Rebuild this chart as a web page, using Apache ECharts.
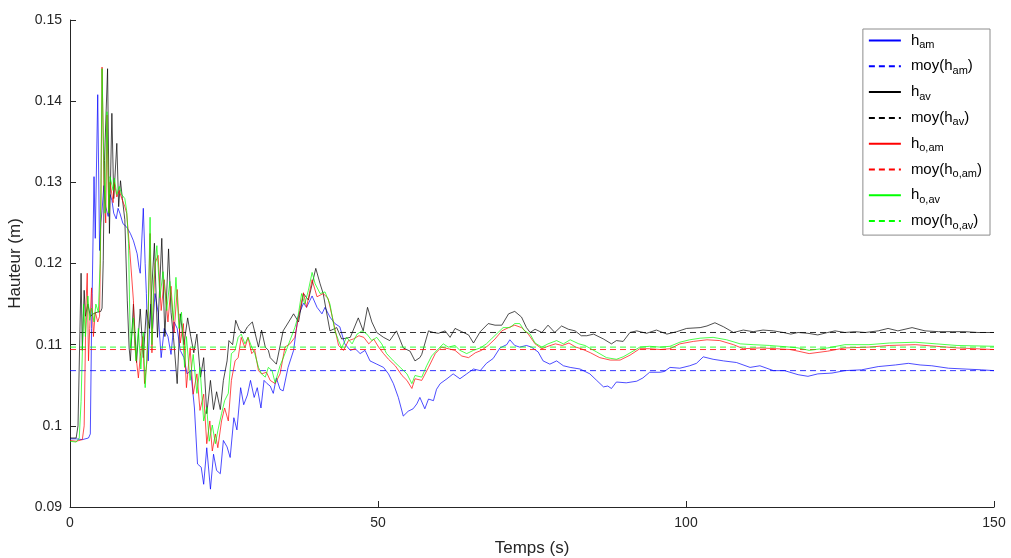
<!DOCTYPE html>
<html>
<head>
<meta charset="utf-8">
<script src="https://cdn.jsdelivr.net/npm/echarts@6/dist/echarts.min.js"></script>
<style>html,body{margin:0;padding:0;background:#fff}#c{width:1011px;height:558px}</style>
</head>
<body>
<div id="c"></div>
<script>
// ---- data: [time (s), height (m)] ----
const hAm = [[0,0.0984],[1,0.0984],[2,0.0983],[3,0.0985],[3.3,0.0990],[3.5,0.1120],[3.6,0.1163],[3.9,0.1307],[4.1,0.1231],[4.5,0.1408],[4.8,0.1216],[5.0,0.1250],[5.2,0.1265],[5.5,0.1296],[5.8,0.1270],[6.2,0.1258],[6.5,0.1285],[6.8,0.1278],[7.1,0.1262],[7.5,0.1255],[7.8,0.1268],[8.1,0.1262],[8.6,0.1249],[9.2,0.1245],[9.8,0.1237],[10.3,0.1228],[10.9,0.1212],[11.2,0.1195],[11.4,0.1188],[11.9,0.1268],[12.2,0.1200],[12.4,0.1163],[12.7,0.1080],[13.1,0.1150],[13.4,0.1120],[13.8,0.1163],[14.3,0.1140],[14.8,0.1084],[15.3,0.1120],[15.9,0.1110],[16.4,0.1088],[16.9,0.1128],[17.4,0.1120],[17.9,0.1093],[18.5,0.1084],[19.0,0.1064],[19.6,0.1068],[20.2,0.1022],[20.7,0.0953],[21.3,0.0949],[21.7,0.0928],[22.2,0.0973],[22.8,0.0922],[23.3,0.0965],[23.8,0.0945],[24.4,0.0941],[24.9,0.0982],[25.5,0.0974],[26.0,0.0961],[26.6,0.1010],[27.1,0.0995],[27.7,0.1047],[28.2,0.1026],[28.8,0.1038],[29.3,0.1056],[29.9,0.1035],[30.4,0.1047],[31.0,0.1022],[31.5,0.1056],[32.0,0.1052],[32.5,0.1049],[33.0,0.1040],[33.5,0.1059],[34.1,0.1045],[34.6,0.1043],[35.4,0.1072],[36.3,0.1093],[37.0,0.1134],[37.9,0.1151],[38.4,0.1146],[39.3,0.1160],[40.1,0.1146],[40.9,0.1138],[41.4,0.1146],[42.2,0.1134],[43.0,0.1126],[43.8,0.1122],[44.6,0.1101],[45.5,0.1093],[46.3,0.1095],[47.1,0.1089],[47.9,0.1093],[48.7,0.1080],[49.8,0.1076],[50.9,0.1072],[51.7,0.1064],[52.5,0.1052],[53.3,0.1035],[54.1,0.1012],[54.9,0.1018],[55.7,0.1021],[56.3,0.1027],[56.8,0.1035],[57.6,0.1021],[58.2,0.1033],[59.0,0.1031],[59.5,0.1045],[60.1,0.1052],[61.2,0.1058],[62.2,0.1064],[63.3,0.1058],[64.4,0.1064],[65.5,0.1070],[66.6,0.1068],[67.6,0.1077],[68.7,0.1083],[69.8,0.1096],[70.9,0.1100],[71.4,0.1106],[72.2,0.1099],[73.0,0.1097],[74.1,0.1099],[74.9,0.1097],[76.0,0.1091],[76.8,0.1080],[77.9,0.1076],[79.0,0.1080],[80.1,0.1074],[81.2,0.1072],[82.8,0.1070],[84.4,0.1064],[85.5,0.1056],[86.6,0.1048],[87.3,0.1049],[87.9,0.1046],[88.7,0.1054],[90.3,0.1053],[92.0,0.1055],[93.0,0.1059],[94.1,0.1066],[95.8,0.1066],[96.5,0.1067],[97.4,0.1072],[99.0,0.1071],[100.6,0.1074],[101.7,0.1077],[102.8,0.1085],[104.4,0.1082],[106.1,0.1080],[108.2,0.1078],[110.4,0.1072],[112.0,0.1074],[114.2,0.1068],[116.0,0.1068],[118.2,0.1063],[119.8,0.1061],[121.4,0.1064],[123.7,0.1065],[125.8,0.1068],[128.5,0.1069],[131.2,0.1073],[134.0,0.1075],[136.1,0.1077],[138.0,0.1075],[139.9,0.1074],[142.6,0.1071],[145.3,0.1070],[148,0.1069],[150,0.1068]];

const hAv = [[0,0.0985],[1.0,0.0985],[1.3,0.1000],[1.8,0.1188],[2.0,0.1093],[2.3,0.1167],[2.5,0.1135],[2.9,0.1150],[3.3,0.1135],[3.8,0.1138],[4.4,0.1140],[5.0,0.1141],[5.2,0.1145],[5.4,0.1204],[5.6,0.1327],[6.1,0.1440],[6.4,0.1237],[6.8,0.1385],[7.1,0.1280],[7.6,0.1348],[7.9,0.1270],[8.2,0.1302],[8.5,0.1280],[8.9,0.1254],[9.3,0.1154],[9.6,0.1096],[9.8,0.1080],[10.3,0.1150],[10.8,0.1078],[11.4,0.1144],[11.9,0.1084],[12.4,0.1143],[12.9,0.1120],[13.7,0.1225],[14.2,0.1109],[14.9,0.1231],[15.4,0.1110],[16.0,0.1218],[16.4,0.1140],[16.8,0.1109],[17.4,0.1052],[17.9,0.1138],[18.5,0.1100],[19.1,0.1133],[19.6,0.1110],[20.1,0.1090],[20.6,0.1113],[21.2,0.1060],[21.7,0.1084],[22.2,0.1015],[22.8,0.1056],[23.3,0.1020],[23.8,0.1042],[24.4,0.1020],[24.9,0.1056],[25.5,0.1080],[25.8,0.1105],[26.4,0.1100],[26.9,0.1130],[27.5,0.1118],[28.2,0.1114],[28.8,0.1122],[29.6,0.1128],[30.6,0.1097],[31.1,0.1118],[31.7,0.1097],[32.2,0.1093],[32.5,0.1084],[33.5,0.1076],[34.6,0.1117],[35.5,0.1128],[36.3,0.1138],[37.1,0.1128],[37.9,0.1163],[38.7,0.1155],[39.9,0.1194],[40.6,0.1175],[41.1,0.1163],[41.6,0.1142],[42.2,0.1117],[43.3,0.1121],[44.1,0.1107],[45.5,0.1109],[46.8,0.1133],[47.6,0.1117],[48.3,0.1146],[49.0,0.1128],[49.8,0.1115],[50.9,0.1109],[51.9,0.1105],[53.0,0.1117],[54.1,0.1096],[55.2,0.1092],[56.0,0.1080],[56.3,0.1078],[56.8,0.1084],[57.1,0.1088],[58.2,0.1117],[59.0,0.1115],[59.8,0.1114],[60.9,0.1117],[61.7,0.1109],[62.5,0.1120],[63.6,0.1116],[64.7,0.1112],[65.5,0.1102],[66.6,0.1116],[67.9,0.1126],[69.0,0.1124],[70.1,0.1124],[71.2,0.1138],[72.2,0.1141],[73.3,0.1134],[74.1,0.1121],[74.7,0.1115],[75.5,0.1119],[76.6,0.1115],[77.6,0.1124],[78.7,0.1115],[79.8,0.1123],[80.9,0.1119],[82.0,0.1117],[83.0,0.1111],[83.9,0.1111],[85.0,0.1113],[86.6,0.1107],[87.9,0.1101],[88.7,0.1105],[89.8,0.1104],[90.9,0.1115],[92.0,0.1117],[93.6,0.1114],[95.2,0.1118],[96.9,0.1113],[98.5,0.1116],[100.1,0.1120],[102.3,0.1121],[103.4,0.1123],[104.7,0.1127],[106.1,0.1122],[107.7,0.1115],[109.3,0.1118],[110.9,0.1116],[112.5,0.1118],[114.2,0.1117],[115.8,0.1115],[117.0,0.1113],[118.2,0.1115],[119.8,0.1114],[121.4,0.1112],[123.0,0.1115],[124.2,0.1117],[125.8,0.1115],[127.4,0.1116],[129.1,0.1115],[131.2,0.1117],[132.8,0.1120],[134.4,0.1117],[136.7,0.1121],[138.8,0.1117],[141,0.1116],[143.2,0.1116],[145.3,0.1116],[147.4,0.1115],[150,0.1115]];

const hOam = [[0,0.0982],[1.0,0.0981],[2.0,0.0983],[2.3,0.1000],[2.6,0.1150],[2.8,0.1188],[3.0,0.1080],[3.2,0.1120],[3.5,0.1170],[3.8,0.1110],[4.1,0.1140],[4.5,0.1128],[4.8,0.1135],[5.0,0.1250],[5.2,0.1442],[5.5,0.1302],[5.8,0.1250],[6.0,0.1383],[6.3,0.1262],[6.5,0.1300],[7.0,0.1275],[7.2,0.1300],[7.6,0.1282],[8.0,0.1290],[8.4,0.1280],[8.9,0.1270],[9.2,0.1262],[9.7,0.1216],[10.3,0.1154],[10.5,0.1101],[11.1,0.1059],[11.4,0.1085],[11.8,0.1110],[12.1,0.1052],[12.5,0.1080],[13.0,0.1237],[13.3,0.1090],[13.5,0.1140],[13.8,0.1200],[14.3,0.1210],[14.8,0.1142],[15.3,0.1180],[15.9,0.1128],[16.4,0.1172],[16.9,0.1115],[17.4,0.1168],[17.9,0.1102],[18.4,0.1126],[18.9,0.1047],[19.5,0.1096],[20.0,0.1039],[20.6,0.1064],[21.1,0.1019],[21.7,0.1039],[22.2,0.0978],[22.7,0.1006],[23.1,0.0969],[23.6,0.0990],[24.0,0.0973],[24.6,0.1006],[25.1,0.1022],[25.7,0.1006],[26.2,0.1056],[26.8,0.1080],[27.3,0.1084],[27.8,0.1109],[28.4,0.1096],[28.9,0.1109],[29.5,0.1089],[30.0,0.1093],[30.6,0.1068],[31.1,0.1064],[31.9,0.1066],[32.5,0.1056],[33.3,0.1052],[34.1,0.1064],[34.9,0.1097],[35.7,0.1101],[36.5,0.1109],[37.3,0.1142],[37.9,0.1164],[38.4,0.1146],[39.3,0.1180],[40.1,0.1159],[41.1,0.1163],[41.9,0.1157],[42.7,0.1130],[43.6,0.1099],[44.4,0.1093],[45.2,0.1105],[46.0,0.1107],[46.9,0.1111],[47.7,0.1109],[48.5,0.1101],[49.3,0.1107],[50.1,0.1097],[50.9,0.1089],[51.7,0.1082],[52.8,0.1074],[53.9,0.1062],[54.7,0.1056],[55.5,0.1046],[56.0,0.1058],[57.1,0.1056],[58.2,0.1072],[59.3,0.1089],[60.3,0.1097],[61.4,0.1095],[62.5,0.1093],[63.6,0.1086],[64.7,0.1084],[65.8,0.1090],[66.8,0.1093],[67.9,0.1099],[69.0,0.1107],[70.1,0.1117],[71.2,0.1121],[72.2,0.1124],[73.3,0.1121],[74.4,0.1113],[75.5,0.1101],[76.6,0.1095],[77.6,0.1098],[78.8,0.1101],[79.9,0.1099],[81.0,0.1102],[82.1,0.1097],[83.0,0.1095],[84.5,0.1090],[86.0,0.1084],[87.7,0.1081],[89.3,0.1081],[90.9,0.1087],[92.5,0.1095],[94.1,0.1095],[95.8,0.1094],[97.4,0.1095],[99.0,0.1101],[101.2,0.1104],[103.4,0.1106],[105.5,0.1105],[107.7,0.1100],[109.3,0.1095],[112.0,0.1096],[114.7,0.1095],[116.9,0.1094],[118.2,0.1092],[120.0,0.1089],[123.0,0.1092],[125.8,0.1096],[129.7,0.1097],[133.0,0.1099],[137.2,0.1100],[140.6,0.1098],[144.0,0.1096],[150,0.1094]];

const hOav = [[0,0.0981],[1.0,0.0980],[1.5,0.0985],[1.8,0.1030],[2.2,0.1150],[2.5,0.1110],[2.9,0.1160],[3.2,0.1130],[3.5,0.1145],[3.9,0.1128],[4.2,0.1150],[4.6,0.1140],[4.9,0.1200],[5.2,0.1440],[5.5,0.1320],[5.7,0.1262],[6.0,0.1387],[6.3,0.1262],[6.5,0.1307],[7.0,0.1290],[7.2,0.1305],[7.6,0.1285],[8.0,0.1295],[8.4,0.1285],[8.9,0.1280],[9.2,0.1265],[9.5,0.1225],[9.8,0.1096],[10.3,0.1133],[10.7,0.1080],[11.1,0.1120],[11.5,0.1070],[11.9,0.1115],[12.2,0.1047],[12.6,0.1100],[13.0,0.1257],[13.3,0.1100],[13.6,0.1180],[14.1,0.1222],[14.6,0.1158],[15.1,0.1190],[15.7,0.1142],[16.2,0.1178],[16.8,0.1130],[17.2,0.1183],[17.7,0.1120],[18.1,0.1140],[18.6,0.1072],[18.9,0.1110],[19.5,0.1056],[20.0,0.1088],[20.6,0.1040],[21.1,0.1072],[21.7,0.1006],[22.2,0.1023],[22.6,0.0981],[23.1,0.1001],[23.6,0.0978],[24.0,0.0994],[24.6,0.1015],[25.1,0.1031],[25.7,0.1040],[26.2,0.1089],[26.8,0.1093],[27.3,0.1109],[27.8,0.1113],[28.4,0.1101],[28.9,0.1109],[29.5,0.1097],[30.0,0.1089],[30.6,0.1072],[31.1,0.1064],[31.7,0.1060],[32.2,0.1072],[32.8,0.1068],[33.3,0.1053],[34.1,0.1074],[34.9,0.1089],[35.7,0.1105],[36.5,0.1121],[37.0,0.1134],[37.6,0.1163],[38.1,0.1150],[38.7,0.1167],[39.3,0.1189],[39.8,0.1175],[40.6,0.1163],[41.4,0.1165],[42.2,0.1150],[43.0,0.1117],[43.6,0.1105],[44.1,0.1096],[44.9,0.1109],[45.8,0.1101],[46.6,0.1113],[47.4,0.1117],[48.2,0.1113],[49.0,0.1105],[49.8,0.1109],[50.6,0.1101],[51.4,0.1089],[52.5,0.1080],[53.6,0.1072],[54.7,0.1064],[55.5,0.1052],[56.0,0.1062],[57.1,0.1060],[57.9,0.1074],[58.7,0.1086],[59.8,0.1095],[60.6,0.1101],[61.4,0.1097],[62.5,0.1099],[63.3,0.1093],[64.4,0.1089],[65.5,0.1093],[66.6,0.1096],[67.6,0.1101],[68.4,0.1107],[69.5,0.1115],[70.3,0.1121],[71.4,0.1121],[72.2,0.1126],[73.0,0.1126],[73.8,0.1117],[74.7,0.1113],[75.5,0.1102],[76.6,0.1097],[77.6,0.1101],[79.0,0.1105],[80.1,0.1101],[81.2,0.1106],[82.6,0.1101],[83.6,0.1099],[85.5,0.1091],[87.1,0.1084],[88.7,0.1082],[89.8,0.1085],[91.4,0.1092],[92.5,0.1097],[94.1,0.1098],[95.8,0.1097],[97.4,0.1098],[99.0,0.1103],[100.6,0.1106],[102.3,0.1108],[104.4,0.1109],[106.6,0.1106],[108.8,0.1101],[110.9,0.1100],[113.6,0.1099],[116.9,0.1097],[118.2,0.1096],[120.0,0.1093],[123.0,0.1096],[125.8,0.1100],[129.7,0.1100],[133.0,0.1102],[137.2,0.1103],[140.6,0.1101],[144.0,0.1099],[150,0.1098]];

// mean levels
const meanAm = 0.1068;
const meanAv = 0.1115;
const meanOam = 0.1094;
const meanOav = 0.1097;

// time span of the mean lines and axis ticks
const tSpan = [0, 150];
const xTicks = [0, 50, 100, 150];
const yTicks = [0.09, 0.10, 0.11, 0.12, 0.13, 0.14, 0.15];

const names = ['h_am','moy(h_am)','h_av','moy(h_av)','h_o,am','moy(h_o,am)','h_o,av','moy(h_o,av)'];
const legendRich = {
  'h_am': '{m|h}{s|am}',
  'moy(h_am)': '{m|moy(h}{s|am}{m|)}',
  'h_av': '{m|h}{s|av}',
  'moy(h_av)': '{m|moy(h}{s|av}{m|)}',
  'h_o,am': '{m|h}{s|o,am}',
  'moy(h_o,am)': '{m|moy(h}{s|o,am}{m|)}',
  'h_o,av': '{m|h}{s|o,av}',
  'moy(h_o,av)': '{m|moy(h}{s|o,av}{m|)}'
};

function meanLine(v){ return tSpan.map(t => [t, v]); }

const font = 'Liberation Sans, Arial, Helvetica, sans-serif';
const axisCol = '#262626';

function lineSeries(name, data, color, dashed){
  return {
    name, type: 'line', data, symbol: 'none', showSymbol: false,
    smooth: false, animation: false, silent: true,
    lineStyle: { color, width: dashed ? 0.8 : 0.7, type: dashed ? [6,4] : 'solid' },
    itemStyle: { color, opacity: 0 }
  };
}

const chart = echarts.init(document.getElementById('c'), null, {renderer: 'canvas'});
chart.setOption({
  backgroundColor: '#fff',
  animation: false,
  grid: { left: 70, right: 17, top: 20, bottom: 51, containLabel: false, outerBoundsMode: 'none' },
  xAxis: {
    type: 'value', min: xTicks[0], max: xTicks[xTicks.length-1], interval: 50,
    name: 'Temps (s)', nameLocation: 'middle', nameGap: 33,
    nameTextStyle: { fontFamily: font, fontSize: 17, color: axisCol },
    axisLine: { show: true, lineStyle: { color: axisCol, width: 1 } },
    axisTick: { show: true, inside: true, length: 6, lineStyle: { color: axisCol } },
    axisLabel: { fontFamily: font, fontSize: 14, color: axisCol, margin: 9 },
    splitLine: { show: false }
  },
  yAxis: {
    type: 'value', min: yTicks[0], max: yTicks[yTicks.length-1], interval: 0.01,
    name: 'Hauteur (m)', nameLocation: 'middle', nameGap: 40, nameRotate: 90,
    nameTextStyle: { fontFamily: font, fontSize: 17, color: axisCol },
    axisLine: { show: true, lineStyle: { color: axisCol, width: 1 } },
    axisTick: { show: true, inside: true, length: 6, lineStyle: { color: axisCol } },
    axisLabel: { fontFamily: font, fontSize: 14, color: axisCol, margin: 8,
      formatter: v => String(+v.toFixed(2)) },
    splitLine: { show: false }
  },
  legend: {
    orient: 'vertical', right: 21, top: 29,
    data: names,
    itemWidth: 32, itemHeight: 12, itemGap: 8.3,
    padding: [4, 8, 4, 5],
    borderColor: '#8c8c8c', borderWidth: 1, backgroundColor: '#fff',
    itemStyle: { opacity: 0, borderWidth: 0 },
    formatter: n => legendRich[n],
    textStyle: {
      fontFamily: font, color: '#000', padding: [0, 0, 0, 5],
      rich: {
        m: { fontFamily: font, fontSize: 15, lineHeight: 20, color: '#000' },
        s: { fontFamily: font, fontSize: 11, verticalAlign: 'bottom', color: '#000' }
      }
    }
  },
  series: [
    lineSeries('h_am', hAm, '#0000ff', false),
    lineSeries('moy(h_am)', meanLine(meanAm), '#0000ff', true),
    lineSeries('h_av', hAv, '#000000', false),
    lineSeries('moy(h_av)', meanLine(meanAv), '#000000', true),
    lineSeries('h_o,am', hOam, '#ff0000', false),
    lineSeries('moy(h_o,am)', meanLine(meanOam), '#ff0000', true),
    lineSeries('h_o,av', hOav, '#00ff00', false),
    lineSeries('moy(h_o,av)', meanLine(meanOav), '#00ff00', true)
  ]
});
</script>
</body>
</html>
